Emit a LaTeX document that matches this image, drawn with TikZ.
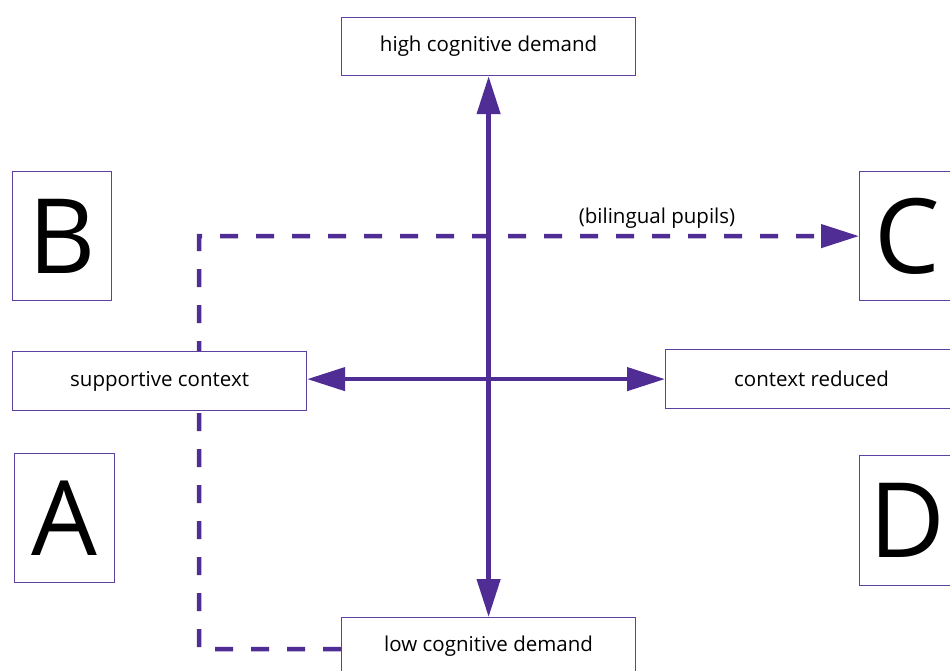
\documentclass[tikz,border=0pt]{standalone}
\usepackage{fontspec}
\setmainfont{Open Sans}
\usetikzlibrary{arrows.meta}
\definecolor{axiscol}{HTML}{4F2D94}
\definecolor{boxcol}{HTML}{5E40A0}
\begin{document}
\begin{tikzpicture}[x=1pt,y=-1pt,
  box/.style={draw=boxcol,line width=1.2pt,fill=white,rectangle,anchor=north west,inner sep=0pt,font=\fontsize{20.5}{24}\selectfont},
  letterbox/.style={box,font=\fontsize{104}{104}\selectfont},
  axis/.style={draw=axiscol,line width=4.5pt,{Triangle[length=38pt,width=23pt]}-{Triangle[length=38pt,width=23pt]}},
  dasharrow/.style={draw=axiscol,line width=4.5pt,dash pattern=on 18pt off 18pt,-{Triangle[length=38pt,width=23pt]}}]
\useasboundingbox[fill=white] (0,0) rectangle (950,670);
% coordinates for dashed path corners
\coordinate (cornerlow) at (199,649);
\coordinate (cornerhigh) at (199,236);
% boxes
\node[letterbox,minimum width=96pt,minimum height=129pt] (C) at (859,171) {C};
\node[box,minimum width=294pt,minimum height=58pt] (lcd) at (341,617) {low cognitive demand};
\draw[dasharrow] (lcd.west |- cornerlow) -- (cornerlow) -- (cornerhigh) -- (C.west);
\node[box,minimum width=294pt,minimum height=58pt] (hcd) at (341,17) {high cognitive demand};
\node[letterbox,minimum width=99pt,minimum height=129pt] (B) at (12,171) {B};
\node[box,minimum width=294pt,minimum height=59pt] (sc) at (12,351) {supportive context};
\node[box,minimum width=292pt,minimum height=59pt] (cr) at (665,349) {context reduced};
\node[letterbox,minimum width=100pt,minimum height=129pt] (A) at (14,453) {A};
\node[letterbox,minimum width=96pt,minimum height=130pt] (D) at (859,455) {D};
\node[font=\fontsize{20.5}{24}\selectfont] (bp) at (657,218) {(bilingual pupils)};
% axes
\draw[axis] (hcd.south) -- (hcd.south |- lcd.north);
\draw[axis] (sc.east |- cr.west) -- (cr.west);
\end{tikzpicture}
\end{document}
